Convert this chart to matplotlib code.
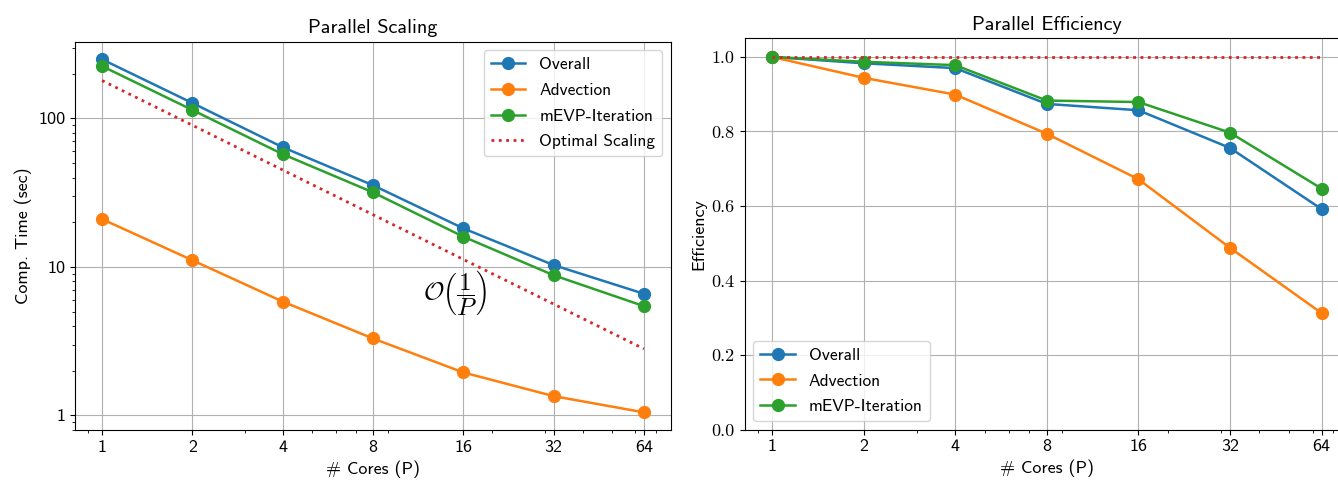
import numpy as np
import matplotlib
matplotlib.use('Agg')
import matplotlib.pyplot as plt

# Font setup: computer modern sans for text, cm for the maths.
plt.rcParams['font.family'] = ['cmss10', 'DejaVu Sans']
plt.rcParams['mathtext.fontset'] = 'cm'
plt.rcParams['axes.unicode_minus'] = False

# Data.
cores = [1, 2, 4, 8, 16, 32, 64]
core_labels = ['1', '2', '4', '8', '16', '32', '64']

time_overall = [250, 127, 64, 35.5, 18.2, 10.3, 6.6]
time_advection = [21, 11.1, 5.85, 3.3, 1.95, 1.35, 1.05]
time_mevp = [225, 114, 57.5, 31.8, 16.0, 8.8, 5.45]
time_optimal = [180, 90, 45, 22.5, 11.25, 5.63, 2.81]

eff_overall = [1.0, 0.983, 0.970, 0.874, 0.857, 0.756, 0.592]
eff_advection = [1.0, 0.944, 0.899, 0.794, 0.672, 0.488, 0.313]
eff_mevp = [1.0, 0.987, 0.978, 0.883, 0.879, 0.797, 0.647]
eff_optimal = [1.0, 1.0, 1.0, 1.0, 1.0, 1.0, 1.0]

fig = plt.figure(figsize=(13.38, 4.83), dpi=100)
ax1 = fig.add_axes([0.05605, 0.10973, 0.44544, 0.80393])
ax2 = fig.add_axes([0.5565, 0.11035, 0.4517, 0.81035])

lw = 1.8
ms = 8.5
fs_title = 14.5
fs_label = 13
fs_tick = 13
fs_leg = 12.5

# Left panel: computation time.
ax1.plot(cores, time_overall, 'o-', color='tab:blue', lw=lw, ms=ms, label='Overall')
ax1.plot(cores, time_advection, 'o-', color='tab:orange', lw=lw, ms=ms, label='Advection')
ax1.plot(cores, time_mevp, 'o-', color='tab:green', lw=lw, ms=ms, label='mEVP-Iteration')
ax1.plot(cores, time_optimal, ':', color='tab:red', lw=2, label='Optimal Scaling')
ax1.set_xscale('log')
ax1.set_yscale('log')
ax1.set_xticks(cores)
ax1.set_xticklabels(core_labels)
ax1.set_yticks([1, 10, 100])
ax1.set_yticklabels(['1', '10', '100'])
ax1.grid(True, which='major')
ax1.set_title('Parallel Scaling', fontsize=fs_title)
ax1.set_xlabel('# Cores (P)', fontsize=fs_label)
ax1.set_ylabel('Comp. Time (sec)', fontsize=fs_label)
ax1.tick_params(labelsize=fs_tick)
ax1.text(15.1, 6.7, r'$\mathcal{O}\left(\dfrac{1}{P}\right)$', fontsize=18,
         ha='center', va='center')
ax1.legend(loc='upper right', fontsize=fs_leg, labelspacing=0.6)

# Right panel: parallel efficiency.
ax2.plot(cores, eff_overall, 'o-', color='tab:blue', lw=lw, ms=ms, label='Overall')
ax2.plot(cores, eff_advection, 'o-', color='tab:orange', lw=lw, ms=ms, label='Advection')
ax2.plot(cores, eff_mevp, 'o-', color='tab:green', lw=lw, ms=ms, label='mEVP-Iteration')
ax2.plot(cores, eff_optimal, ':', color='tab:red', lw=2)
ax2.set_xscale('log')
ax2.set_xticks(cores)
ax2.set_xticklabels(core_labels)
ax2.set_ylim(0, 1.05)
yt = np.arange(0, 1.01, 0.2)
ax2.set_yticks(yt)
ax2.set_yticklabels(['%.1f' % v for v in yt], family='cmr10')
ax2.grid(True, which='major')
ax2.set_title('Parallel Efficiency', fontsize=fs_title)
ax2.set_xlabel('# Cores (P)', fontsize=fs_label)
ax2.set_ylabel('Efficiency', fontsize=fs_label)
ax2.tick_params(labelsize=fs_tick)
ax2.legend(loc='lower left', fontsize=fs_leg, labelspacing=0.6)

fig.savefig('out.png', dpi=100)
